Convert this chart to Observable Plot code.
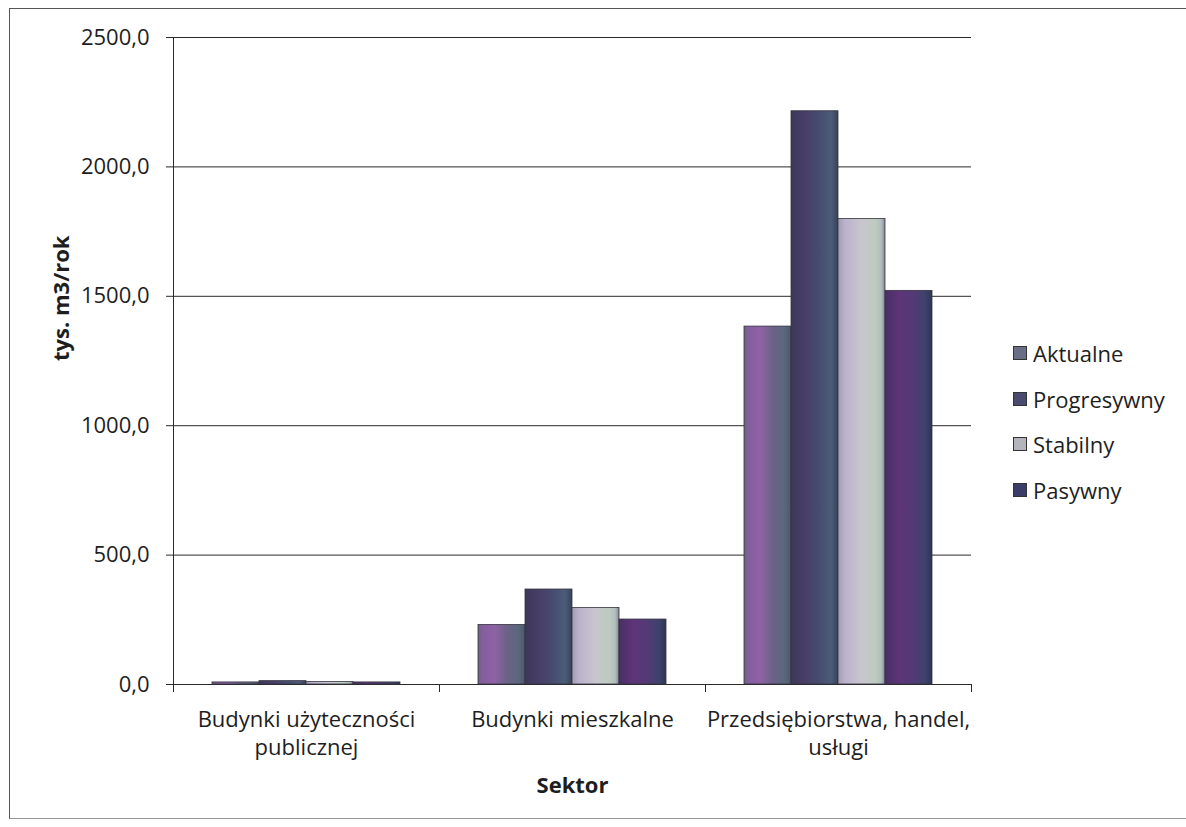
<!DOCTYPE html>
<html>
<head>
<meta charset="utf-8">
<script src="https://cdn.jsdelivr.net/npm/d3@7"></script>
<script src="https://cdn.jsdelivr.net/npm/@observablehq/plot@0.6"></script>
<style>
  html, body { margin: 0; padding: 0; background: #fff; }
  body { width: 1186px; height: 827px; position: relative; overflow: hidden; font-family: "Open Sans", sans-serif; }
  #chart { position: absolute; left: 0; top: 0; }
  #border { position: absolute; left: 9px; top: 8px; width: 1190px; height: 809px; border-left: 1px solid #555; border-top: 1px solid #555; border-bottom: 1px solid #999; }
  #legend { position: absolute; left: 1013px; top: 330px; color: #1e1e1e; font-size: 22px; }
  #legend .row { display: flex; align-items: center; height: 45.7px; }
  #legend .sw { width: 14px; height: 14px; margin-right: 6px; box-sizing: border-box; border: 1px solid #333; }
</style>
</head>
<body>
<div id="border"></div>
<div id="chart"></div>
<div id="legend"></div>
<script>
// ---- data ----
const categories = ["Budynki użyteczności publicznej", "Budynki mieszkalne", "Przedsiębiorstwa, handel, usługi"];
const categoryLabels = ["Budynki użyteczności\npublicznej", "Budynki mieszkalne", "Przedsiębiorstwa, handel,\nusługi"];
const series = ["Aktualne", "Progresywny", "Stabilny", "Pasywny"];
const aktualne = [8, 230, 1383];
const progresywny = [13, 367, 2215];
const stabilny = [10, 296, 1799];
const pasywny = [8, 251, 1521];
const yTicks = [0, 500, 1000, 1500, 2000, 2500];
const yLabel = "tys. m3/rok";
const xLabel = "Sektor";

const seriesValues = [aktualne, progresywny, stabilny, pasywny];
const data = categories.flatMap((c, i) => series.map((s, j) => ({category: c, series: s, value: seriesValues[j][i]})));

// ---- styles ----
const gradients = [
  [[0, "#6a6678"], [0.08, "#835e9c"], [0.35, "#8f62a6"], [0.6, "#6c6288"], [0.85, "#5a687e"], [1, "#4e586c"]],
  [[0, "#3c3858"], [0.3, "#483e68"], [0.6, "#464c70"], [0.85, "#4c5c78"], [1, "#38425a"]],
  [[0, "#a29cb0"], [0.15, "#bcb2cc"], [0.5, "#c9c5ce"], [0.8, "#bccbbe"], [0.92, "#b2bcc0"], [1, "#868694"]],
  [[0, "#482e66"], [0.3, "#5e3478"], [0.6, "#523a76"], [0.85, "#3e426c"], [1, "#2e3454"]]
];
const swatches = ["#6a6e86", "#4a4a70", "#b4b4bc", "#3c3c68"];

const W = 1186, H = 827;
const mL = 172, mR = 214, mT = 37, mB = 143;
const FS = 22;
const fmt = d => d.toFixed(1).replace(".", ",");

const svg = Plot.plot({
  width: W,
  height: H,
  marginLeft: mL,
  marginRight: mR,
  marginTop: mT,
  marginBottom: mB,
  style: {fontFamily: "'Open Sans', sans-serif", fontSize: FS + "px", color: "#1e1e1e", background: "transparent"},
  fx: {domain: categories, padding: 0, axis: null, label: null},
  x: {domain: series, paddingInner: 0, paddingOuter: 0.78, axis: null, label: null},
  y: {domain: [0, 2500], axis: null, label: null},
  color: {domain: series, range: series.map((_, i) => `url(#grad${i})`)},
  marks: [
    Plot.ruleY(yTicks, {stroke: "#2a2a2a", strokeWidth: 1}),
    Plot.barY(data, {fx: "category", x: "series", y: "value", fill: "series", stroke: "#34343f", strokeWidth: 0.8}),
    Plot.frame({anchor: "left", facetAnchor: "left", stroke: "#2a2a2a"}),
    Plot.frame({anchor: "left", insetTop: H - mT - mB, insetBottom: -7, stroke: "#2a2a2a"}),
    Plot.frame({anchor: "right", facetAnchor: "right", insetTop: H - mT - mB, insetBottom: -7, stroke: "#2a2a2a"}),
    Plot.axisY({ticks: yTicks, tickFormat: fmt, tickSize: 7, tickPadding: 17, label: null, fontSize: FS, stroke: "#2a2a2a"}),
    Plot.text(categories, {fx: d => d, text: (d, i) => categoryLabels[i], frameAnchor: "bottom", lineAnchor: "top", dy: 23, lineHeight: 1.26, fontSize: FS, fill: "#1e1e1e"}),
    Plot.text([xLabel], {fx: () => categories[1], frameAnchor: "bottom", lineAnchor: "top", dy: 93, fontSize: FS, fontWeight: "bold", fill: "#1e1e1e"}),
    Plot.text([yLabel], {facetAnchor: "left", frameAnchor: "left", rotate: -90, dx: -112, fontSize: FS, fontWeight: "bold", fill: "#1e1e1e"})
  ]
});

const defs = d3.select(svg).insert("defs", ":first-child");
gradients.forEach((stops, i) => {
  const g = defs.append("linearGradient").attr("id", `grad${i}`).attr("x1", "0").attr("x2", "1").attr("y1", "0").attr("y2", "0");
  stops.forEach(([o, c]) => g.append("stop").attr("offset", o).attr("stop-color", c));
});

document.getElementById("chart").appendChild(svg);

const legend = d3.select("#legend");
series.forEach((s, i) => {
  const row = legend.append("div").attr("class", "row");
  row.append("div").attr("class", "sw").style("background", swatches[i]);
  row.append("span").text(s);
});
</script>
</body>
</html>
